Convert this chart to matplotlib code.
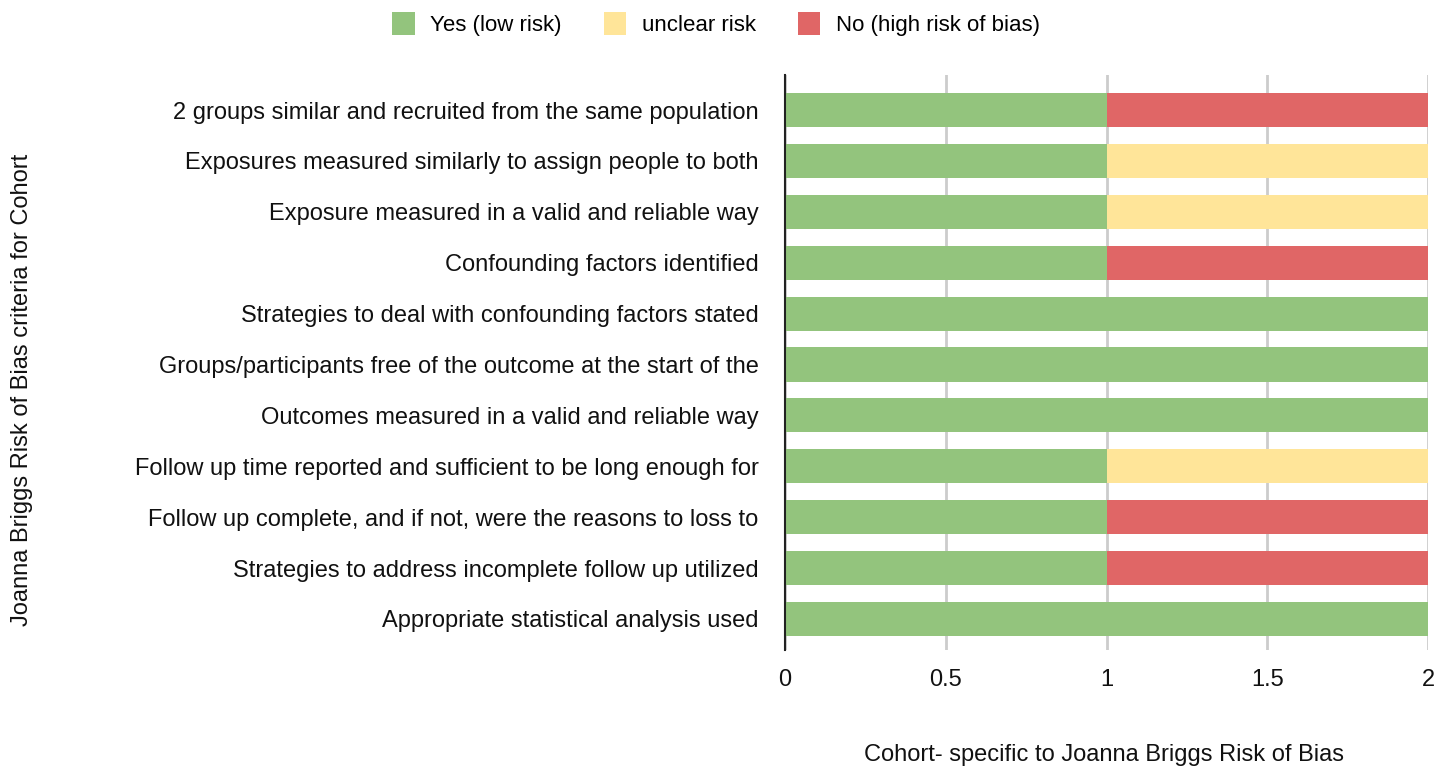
import numpy as np
import matplotlib.pyplot as plt

plt.rcParams['font.family'] = ['Liberation Sans', 'DejaVu Sans']

criteria = [
    "2 groups similar and recruited from the same population",
    "Exposures measured similarly to assign people to both",
    "Exposure measured in a valid and reliable way",
    "Confounding factors identified",
    "Strategies to deal with confounding factors stated",
    "Groups/participants free of the outcome at the start of the",
    "Outcomes measured in a valid and reliable way",
    "Follow up time reported and sufficient to be long enough for",
    "Follow up complete, and if not, were the reasons to loss to",
    "Strategies to address incomplete follow up utilized",
    "Appropriate statistical analysis used",
]
yes_low = [1, 1, 1, 1, 2, 2, 2, 1, 1, 1, 2]
unclear = [0, 1, 1, 0, 0, 0, 0, 1, 0, 0, 0]
no_high = [1, 0, 0, 1, 0, 0, 0, 0, 1, 1, 0]

series = [
    ("Yes (low risk)", yes_low, "#93c47d"),
    ("unclear risk", unclear, "#ffe599"),
    ("No (high risk of bias)", no_high, "#e06666"),
]

fig = plt.figure(figsize=(14.49, 7.70), dpi=100)
ax = fig.add_axes([785 / 1449, 1 - 650 / 770, (1428 - 785) / 1449, (650 - 75) / 770])

y = np.arange(len(criteria))
left = np.zeros(len(criteria))
for name, vals, col in series:
    vals = np.array(vals, dtype=float)
    ax.barh(y, vals, left=left, height=0.67, color=col, label=name, zorder=3)
    left += vals

ax.set_xlim(0, 2)
ax.set_ylim(10.61, -0.69)
ax.set_xticks([0, 0.5, 1, 1.5, 2])
ax.set_xticklabels(["0", "0.5", "1", "1.5", "2"])
ax.set_yticks(y)
ax.set_yticklabels(criteria)
ax.tick_params(axis='both', length=0, labelsize=17, colors='#111111')
ax.tick_params(axis='x', pad=14)
ax.tick_params(axis='y', pad=19)
ax.grid(axis='x', color='#cccccc', linewidth=2, zorder=0)
for s in ['top', 'right', 'bottom']:
    ax.spines[s].set_visible(False)
ax.spines['left'].set_color('#222222')
ax.spines['left'].set_linewidth(1.5)
ax.spines['left'].set_zorder(4)

fig.text(1104 / 1449, 1 - 755 / 770, "Cohort- specific to Joanna Briggs Risk of Bias",
         ha='center', va='center', fontsize=17, color='#111111')
fig.text(22 / 1449, 1 - 390 / 770, "Joanna Briggs Risk of Bias criteria for Cohort",
         ha='center', va='center', rotation=90, fontsize=17, color='#111111')

fig.legend(loc='center', bbox_to_anchor=(716 / 1449, 1 - 24 / 770), ncol=3,
           frameon=False, fontsize=16, handlelength=1.0, handleheight=1.2,
           columnspacing=1.9, handletextpad=0.7)

fig.savefig("out.png", dpi=100, facecolor='white')
